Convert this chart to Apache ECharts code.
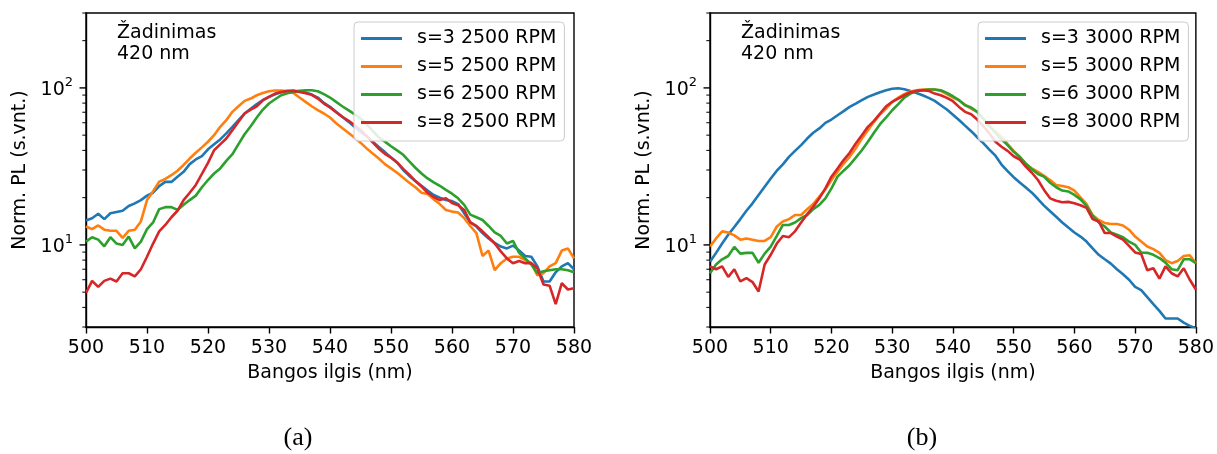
<!DOCTYPE html>
<html>
<head>
<meta charset="utf-8">
<script src="https://cdn.jsdelivr.net/npm/echarts@6/dist/echarts.min.js"></script>
<style>
  html, body { margin: 0; padding: 0; background: #ffffff; }
  #chart { width: 1217px; height: 454px; }
</style>
</head>
<body>
<div id="chart"></div>
<script>
// Wavelength grid (nm)
const wavelengths = [
  500,501,502,503,504,505,506,507,508,509,
  510,511,512,513,514,515,516,517,518,519,
  520,521,522,523,524,525,526,527,528,529,
  530,531,532,533,534,535,536,537,538,539,
  540,541,542,543,544,545,546,547,548,549,
  550,551,552,553,554,555,556,557,558,559,
  560,561,562,563,564,565,566,567,568,569,
  570,571,572,573,574,575,576,577,578,579,
  580
];

const namesA = ['s=3 2500 RPM', 's=5 2500 RPM', 's=6 2500 RPM', 's=8 2500 RPM'];
const namesB = ['s=3 3000 RPM', 's=5 3000 RPM', 's=6 3000 RPM', 's=8 3000 RPM'];
const lineColors = ['#1f77b4', '#ff7f0e', '#2ca02c', '#d62728'];

// (a) 2500 RPM, normalised PL
const a_s3 = [
  14.3,14.8,15.8,14.6,15.9,16.2,16.5,17.7,18.4,19.3,
  20.6,21.5,23.7,25.2,25.2,27.2,29.2,32.7,35.0,36.8,
  40.6,43.7,47.0,51.3,56.5,62.3,68.7,73.6,78.8,83.5,
  87.7,91.2,93.9,95.2,95.7,95.2,93.4,90.7,86.8,80.3,
  75.8,70.5,65.5,61.0,56.5,52.5,49.0,45.5,42.0,39.0,
  36.0,33.5,30.0,27.5,25.5,23.8,22.2,20.8,20.0,19.3,
  19.0,18.2,15.9,13.9,13.1,11.9,11.0,10.3,9.76,9.5,
  9.9,9.2,8.5,8.4,7.3,5.85,5.85,6.7,7.3,7.65,
  7.0
];
const a_s5 = [
  13.1,12.6,13.3,12.5,12.3,12.3,11.1,12.3,12.5,14.1,
  19.3,22.0,25.3,26.3,27.8,29.7,32.3,35.5,38.6,41.8,
  45.4,50.0,56.5,62.3,70.4,76.4,82.7,85.5,89.8,92.9,
  95.2,96.2,96.2,95.2,92.9,86.8,81.5,76.4,72.1,68.7,
  64.8,59.5,55.5,51.8,48.3,44.8,41.2,38.2,35.5,32.7,
  30.7,28.8,26.8,24.9,23.3,21.5,21.1,19.5,18.2,16.7,
  16.3,16.1,14.8,13.2,11.9,8.5,9.2,6.9,7.65,8.2,
  8.4,8.4,8.0,7.65,6.4,6.6,7.3,7.65,9.2,9.5,
  8.2
];
const a_s6 = [
  10.5,11.2,10.8,9.8,11.2,10.2,10.0,11.3,9.5,10.5,
  12.6,13.9,16.9,17.4,17.4,16.7,18.0,19.3,20.6,23.3,
  25.9,28.5,30.7,34.3,37.8,43.8,50.7,57.0,64.8,72.8,
  79.5,84.7,89.8,92.5,94.3,95.7,96.6,96.6,95.2,91.2,
  86.8,81.5,76.4,72.1,68.0,63.8,58.7,53.3,48.5,45.5,
  42.5,40.0,37.5,34.0,31.0,28.5,26.5,25.0,23.8,22.4,
  21.2,19.8,18.0,15.6,15.0,14.4,13.2,12.0,11.4,10.2,
  10.6,8.9,8.2,7.5,6.6,6.8,6.9,7.0,7.0,6.9,
  6.7
];
const a_s8 = [
  4.94,5.9,5.4,5.9,6.1,5.85,6.6,6.6,6.3,7.0,
  8.4,10.2,12.2,13.4,15.0,16.5,19.3,21.5,24.1,28.3,
  33.3,40.1,43.7,47.6,53.8,60.8,68.7,72.8,76.4,83.5,
  87.7,92.0,94.3,95.7,95.7,94.3,92.5,90.3,85.5,79.5,
  75.0,70.0,65.5,62.0,58.0,54.0,49.5,45.0,41.0,38.0,
  36.0,33.5,30.5,28.0,25.5,23.5,21.5,20.2,19.3,19.8,
  18.5,17.9,16.7,13.9,13.2,12.2,11.2,10.2,9.1,8.2,
  7.65,7.9,7.65,7.65,7.1,5.6,5.5,4.2,5.7,5.2,
  5.3
];

// (b) 3000 RPM, normalised PL
const b_s3 = [
  7.8,8.9,10.2,11.6,13.0,14.6,16.5,18.4,20.8,23.5,
  26.5,29.7,32.6,36.4,39.7,43.2,47.6,51.8,55.2,59.9,
  62.9,67.0,71.1,75.7,79.5,83.5,87.7,90.7,93.9,96.6,
  98.8,99.5,98.0,95.7,92.9,89.8,86.4,82.7,77.6,72.8,
  67.5,62.5,57.5,53.0,48.5,44.5,40.5,37.0,32.5,29.5,
  27.0,25.0,23.2,21.5,19.6,17.8,16.4,15.1,13.9,12.9,
  12.0,11.3,10.5,9.5,8.65,8.1,7.6,7.0,6.5,6.0,
  5.4,5.15,4.65,4.2,3.8,3.4,3.4,3.4,3.2,3.05,
  2.95
];
const b_s5 = [
  9.76,11.0,12.2,12.0,11.5,10.8,11.0,10.8,10.6,10.6,
  11.2,13.1,14.1,14.6,15.5,15.5,16.9,18.2,20.3,22.6,
  25.9,29.2,33.0,36.4,41.3,47.6,53.8,60.8,67.7,73.9,
  81.5,86.8,91.2,94.8,96.6,97.6,97.6,97.6,95.7,91.2,
  86.8,83.5,78.0,73.9,70.4,63.8,56.5,52.5,48.8,43.8,
  39.7,36.4,32.7,30.7,29.2,27.5,25.9,24.1,23.7,23.3,
  22.2,20.1,18.2,15.5,14.4,13.8,13.6,13.6,13.3,12.5,
  11.3,10.5,9.76,9.4,8.9,8.0,7.65,7.9,8.5,8.6,
  7.65
];
const b_s6 = [
  6.6,7.5,8.1,8.5,9.7,8.8,8.9,8.9,7.7,8.8,
  9.76,11.4,13.4,13.4,13.9,14.8,15.5,16.9,18.0,19.8,
  22.9,27.2,29.7,32.3,36.0,40.1,45.4,51.8,58.7,64.8,
  72.1,78.8,86.8,92.0,95.2,96.6,97.6,97.6,96.6,92.9,
  88.5,83.5,77.6,75.0,70.4,63.8,57.4,51.8,47.0,43.2,
  39.2,36.4,33.0,30.3,28.3,27.2,24.9,23.3,22.2,21.9,
  20.8,19.5,17.7,15.3,13.9,13.1,12.0,11.6,11.2,10.5,
  10.0,8.95,8.9,8.65,8.25,7.7,7.0,6.9,8.1,8.1,
  7.65
];
const b_s8 = [
  7.3,7.0,7.3,6.25,7.0,5.85,6.15,5.8,5.05,7.5,
  8.65,10.2,11.4,11.2,12.2,13.9,15.7,17.5,19.8,22.9,
  27.2,30.7,34.7,38.6,44.3,50.0,56.5,61.7,68.7,76.4,
  81.5,85.5,89.8,93.9,95.7,96.6,95.7,92.0,89.8,86.4,
  82.3,75.7,70.4,68.0,62.9,57.1,51.3,45.4,42.2,39.7,
  36.7,35.0,31.5,28.8,25.9,22.4,19.8,19.1,18.7,18.8,
  18.4,17.9,17.2,14.6,14.1,11.9,11.9,11.3,10.8,9.85,
  8.95,8.75,6.9,7.1,6.1,7.3,6.6,6.3,7.1,6.0,
  5.2
];

// Log-axis tick positions
const yMajorTicks = [10, 100];
const yMinorTicks = [3, 4, 5, 6, 7, 8, 9, 20, 30, 40, 50, 60, 70, 80, 90, 200, 300];
const xTickStep = 10;

const xAxisTitle = 'Bangos ilgis (nm)';
const yAxisTitle = 'Norm. PL (s.vnt.)';
const noteText = 'Žadinimas\n420 nm';
const captions = ['(a)', '(b)'];

const FONT = 'DejaVu Sans';
const FS = 19;
const LINE_W = 2.6;

const panels = [
  { left: 86, legendLeft: 354, noteX: 117, captionX: 298, names: namesA, data: [a_s3, a_s5, a_s6, a_s8] },
  { left: 710, legendLeft: 978, noteX: 741, captionX: 922, names: namesB, data: [b_s3, b_s5, b_s6, b_s8] }
];

const grids = [], xAxes = [], yAxes = [], series = [], legends = [], graphics = [];

// Outward tick marks on the log y-axis (major at decades, minor in between)
function renderYTick(params, api) {
  const p = api.coord([api.value(0), api.value(1)]);
  const major = api.value(2) === 1;
  const len = major ? 6.5 : 3.7;
  return {
    type: 'line',
    shape: { x1: p[0] - len, y1: p[1], x2: p[0], y2: p[1] },
    style: { stroke: '#000', lineWidth: major ? 1.4 : 1.0 }
  };
}

const tickData = yMajorTicks.map(v => [500, v, 1]).concat(yMinorTicks.map(v => [500, v, 0]));

panels.forEach((pn, i) => {
  grids.push({
    left: pn.left, top: 13, width: 488, height: 314,
    show: true, borderColor: '#000', borderWidth: 1.4, backgroundColor: 'transparent'
  });
  xAxes.push({
    gridIndex: i, type: 'value', min: 500, max: 580, interval: xTickStep,
    name: xAxisTitle, nameLocation: 'middle', nameGap: 37,
    nameTextStyle: { fontFamily: FONT, fontSize: FS, color: '#000' },
    axisLine: { show: true, lineStyle: { color: '#000', width: 1.4 } },
    axisTick: { show: true, inside: false, length: 6.5, lineStyle: { color: '#000', width: 1.4 } },
    axisLabel: { margin: 12, fontFamily: FONT, fontSize: FS, color: '#000' },
    splitLine: { show: false }
  });
  yAxes.push({
    gridIndex: i, type: 'log', logBase: 10, min: 3, max: 300,
    name: yAxisTitle, nameLocation: 'middle', nameGap: 56,
    nameTextStyle: { fontFamily: FONT, fontSize: FS, color: '#000' },
    axisLine: { show: true, lineStyle: { color: '#000', width: 1.4 } },
    axisTick: { show: false },
    splitLine: { show: false },
    minorTick: { show: false },
    axisLabel: {
      margin: 13, color: '#000',
      showMinLabel: false, showMaxLabel: false,
      formatter: v => {
        const r = Math.round(v);
        if (!yMajorTicks.includes(r)) return '';
        return '{b|10}{s|' + Math.round(Math.log10(r)) + '}';
      },
      rich: {
        b: { fontFamily: FONT, fontSize: FS, color: '#000', lineHeight: 24, verticalAlign: 'bottom' },
        s: { fontFamily: FONT, fontSize: 13, color: '#000', lineHeight: 14, verticalAlign: 'top' }
      }
    }
  });
  pn.data.forEach((vals, k) => {
    series.push({
      name: pn.names[k], type: 'line', xAxisIndex: i, yAxisIndex: i,
      data: wavelengths.map((w, j) => [w, vals[j]]),
      symbol: 'none', smooth: false, clip: true,
      lineStyle: { color: lineColors[k], width: LINE_W },
      itemStyle: { color: lineColors[k] },
      z: 2 + k * 0.01
    });
  });
  series.push({
    type: 'custom', xAxisIndex: i, yAxisIndex: i, silent: true, clip: false,
    renderItem: renderYTick, data: tickData, encode: { x: 0, y: 1 }, z: 5
  });
  legends.push({
    data: pn.names, orient: 'vertical', left: pn.legendLeft, top: 22,
    icon: 'rect', itemWidth: 41, itemHeight: 2.8, itemGap: 9,
    padding: [7, 8, 9, 7],
    backgroundColor: 'rgba(255,255,255,0.85)', borderColor: '#cccccc', borderWidth: 1, borderRadius: 4,
    selectedMode: false,
    itemStyle: { borderWidth: 0 },
    textStyle: { fontFamily: FONT, fontSize: FS, color: '#000', lineHeight: 19, padding: [0, 0, 0, 10] },
    z: 10
  });
  graphics.push({
    type: 'text', left: pn.noteX, top: 23, z: 20,
    style: { text: noteText, font: FS + 'px "' + FONT + '"', fill: '#000', lineHeight: 21 }
  });
  graphics.push({
    type: 'text', x: pn.captionX, y: 438, z: 20,
    style: { text: captions[i], font: '26px "Liberation Serif"', fill: '#000', align: 'center', verticalAlign: 'middle' }
  });
});

const chart = echarts.init(document.getElementById('chart'), null, { renderer: 'canvas', width: 1217, height: 454 });
chart.setOption({
  animation: false,
  backgroundColor: '#ffffff',
  grid: grids,
  xAxis: xAxes,
  yAxis: yAxes,
  legend: legends,
  series: series,
  graphic: graphics
});
</script>
</body>
</html>
